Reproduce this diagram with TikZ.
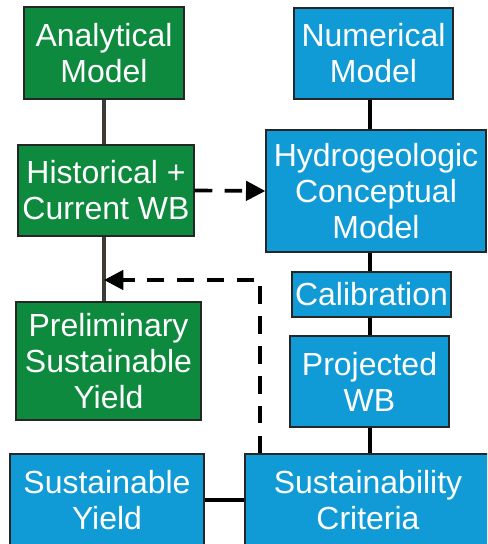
\documentclass[tikz,border=0pt]{standalone}
\usepackage{fontspec}
\setmainfont{Liberation Sans}
\usetikzlibrary{arrows.meta}
\definecolor{boxgreen}{RGB}{14,138,62}
\definecolor{boxblue}{RGB}{16,155,215}
\definecolor{linegray}{RGB}{62,58,56}
\tikzset{
  box/.style={draw=black!85, line width=0.8pt, text=white, align=center, inner sep=0pt,
    font=\fontsize{18.2}{20.5}\selectfont},
  greenbox/.style={box, fill=boxgreen},
  bluebox/.style={box, fill=boxblue},
  link/.style={line width=2.2pt},
  flow/.style={line width=2.1pt, dash pattern=on 10pt off 7pt, -{Triangle[length=11pt,width=11pt]}}
}
\begin{document}
\begin{tikzpicture}[x=0.02cm, y=-0.02cm]
\clip (0,0) rectangle (487,544);
% left column
\node[greenbox, minimum width=3.2cm, minimum height=1.84cm] (ana) at (104,53) {Analytical\\Model};
\node[greenbox, minimum width=3.52cm, minimum height=1.82cm] (hist) at (106,190.5) {Historical +\\Current WB};
\node[greenbox, minimum width=3.7cm, minimum height=2.36cm] (prel) at (108.5,361) {Preliminary\\Sustainable\\Yield};
\node[bluebox, minimum width=3.88cm, minimum height=1.84cm] (sy) at (107,500) {Sustainable\\Yield};
% right column
\node[bluebox, minimum width=3.18cm, minimum height=1.82cm] (num) at (373.5,53.5) {Numerical\\Model};
\node[bluebox, minimum width=4.4cm, minimum height=2.44cm] (hydro) at (376,191) {Hydrogeologic\\Conceptual\\Model};
\node[bluebox, minimum width=3.18cm, minimum height=0.9cm] (cal) at (371.5,294.5) {Calibration};
\node[bluebox, minimum width=3.18cm, minimum height=1.82cm] (proj) at (369.5,381.5) {Projected\\WB};
\node[bluebox, minimum width=4.92cm, minimum height=1.84cm] (crit) at (368,500) {Sustainability\\Criteria};
\coordinate (spine) at (370,0);
\coordinate (turn) at (260,280);
\coordinate (tip) at (104,280);
% solid links
\draw[link, linegray] (ana.south -| tip) -- (hist.north -| tip);
\draw[link, linegray] (hist.south -| tip) -- (prel.north -| tip);
\draw[link] (num.south -| spine) -- (hydro.north -| spine);
\draw[link] (hydro.south -| spine) -- (cal.north -| spine);
\draw[link] (cal.south -| spine) -- (proj.north -| spine);
\draw[link] (proj.south -| spine) -- (crit.north -| spine);
\draw[link] (sy) -- (crit);
% dashed feedback
\draw[flow] (hist.east) -- (hydro.west);
\draw[flow] (crit.north -| turn) -- (turn) -- (tip);
\end{tikzpicture}
\end{document}
